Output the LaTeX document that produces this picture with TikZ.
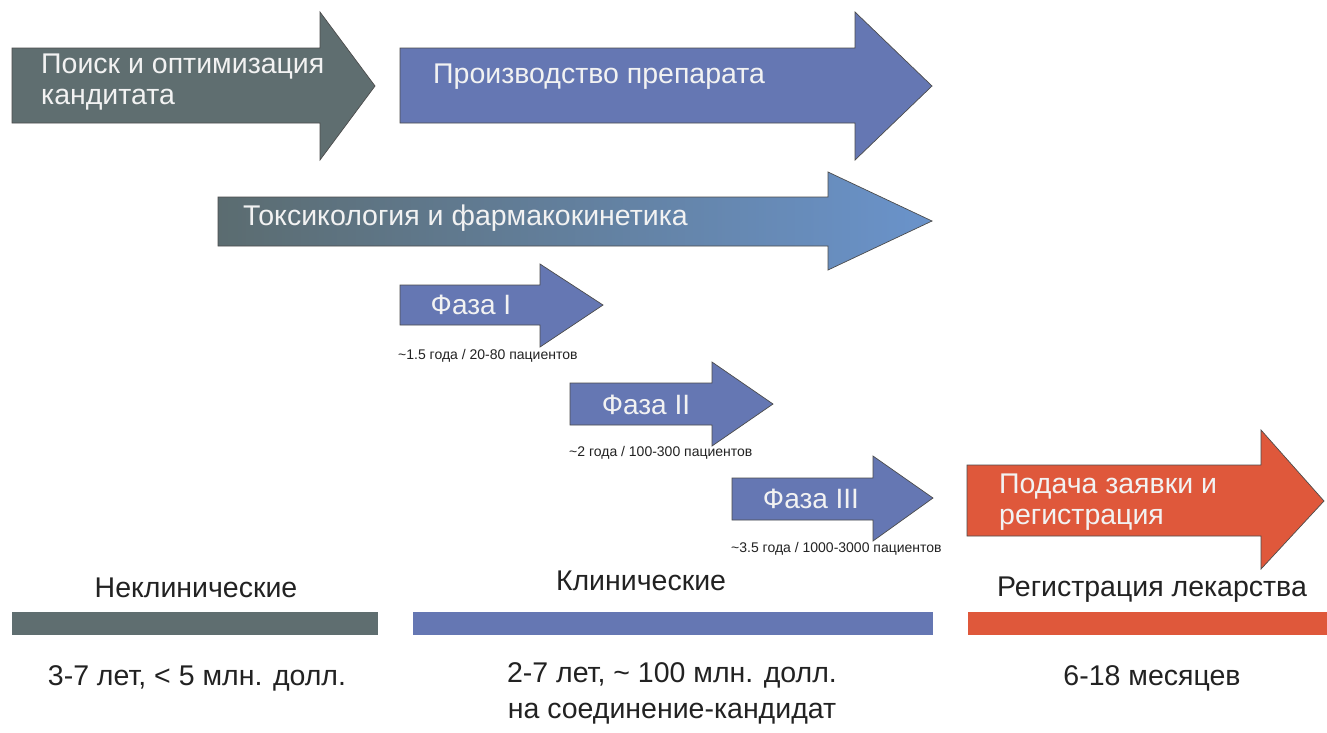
\documentclass[tikz,border=0pt]{standalone}
\usepackage{fontspec}
\setmainfont{Liberation Sans}
\definecolor{cgray}{HTML}{5F6E70}
\definecolor{cblue}{HTML}{6577B3}
\definecolor{cred}{HTML}{DF583B}
\definecolor{ctoxl}{HTML}{5B6C70}
\definecolor{ctoxr}{HTML}{6A93CB}
\definecolor{ctext}{HTML}{F2F2F2}
\definecolor{cdark}{HTML}{222222}
\begin{document}
\begin{tikzpicture}[x=1pt,y=-1pt,
  arrowline/.style={draw=black!70, line width=0.7pt},
  intext/.style={text=ctext, font=\fontsize{28.5}{31}\selectfont, align=left, inner sep=0pt},
  phasetext/.style={text=ctext, font=\fontsize{28}{31}\selectfont, inner sep=0pt},
  smalltext/.style={text=cdark, font=\fontsize{14}{16}\selectfont, inner sep=0pt},
  head/.style={text=cdark, font=\fontsize{28.5}{34}\selectfont, inner sep=0pt},
  info/.style={text=cdark, font=\fontsize{28.5}{36}\selectfont, align=center, inner sep=0pt}]
\useasboundingbox (0,0) rectangle (1327,732);
\fill[white] (0,0) rectangle (1327,732);

% top arrows
\path[fill=cgray, arrowline] (12,48) -- (320,48) -- (320,12) -- (375,86) -- (320,160) -- (320,123) -- (12,123) -- cycle;
\node[intext, anchor=west] (search) at (41,82) {Поиск и оптимизация\\кандитата};

\path[fill=cblue, arrowline] (400,48) -- (855,48) -- (855,12) -- (932,86) -- (855,160) -- (855,123) -- (400,123) -- cycle;
\node[intext, anchor=west] (prod) at (433,77) {Производство препарата};

\shade[left color=ctoxl, right color=ctoxr] (218,197) -- (828,197) -- (828,172) -- (932,221) -- (828,270) -- (828,246) -- (218,246) -- cycle;
\draw[arrowline] (218,197) -- (828,197) -- (828,172) -- (932,221) -- (828,270) -- (828,246) -- (218,246) -- cycle;
\node[intext, anchor=west] (tox) at (243,218) {Токсикология и фармакокинетика};

% phases
\path[fill=cblue, arrowline] (400,285) -- (540,285) -- (540,264) -- (603,305) -- (540,347) -- (540,325) -- (400,325) -- cycle;
\node[phasetext] (ph1) at (471,305) {Фаза I};
\node[smalltext, anchor=west] (ph1t) at (398,356) {\textasciitilde1.5 года / 20-80 пациентов};

\path[fill=cblue, arrowline] (570,383) -- (712,383) -- (712,362) -- (773,404) -- (712,446) -- (712,425) -- (570,425) -- cycle;
\node[phasetext] (ph2) at (646,405) {Фаза II};
\node[smalltext, anchor=west] (ph2t) at (569,453) {\textasciitilde2 года / 100-300 пациентов};

\path[fill=cblue, arrowline] (732,478) -- (873,478) -- (873,456) -- (933,498) -- (873,541) -- (873,520) -- (732,520) -- cycle;
\node[phasetext] (ph3) at (811,499) {Фаза III};
\node[smalltext, anchor=west] (ph3t) at (731,549) {\textasciitilde3.5 года / 1000-3000 пациентов};

% registration arrow
\path[fill=cred, arrowline] (967,465) -- (1261,465) -- (1261,430) -- (1324,501) -- (1261,569) -- (1261,536) -- (967,536) -- cycle;
\node[intext, anchor=west] (reg) at (999,502) {Подача заявки и\\регистрация};

% stage labels and bars
\node[head] (l1) at (196,588) {Неклинические};
\node[head] (l2) at (641,581) {Клинические};
\node[head] (l3) at (1152,590) {Регистрация лекарства};
\fill[cgray] (12,612) rectangle (378,635);
\fill[cblue] (413,612) rectangle (933,635);
\fill[cred] (968,612) rectangle (1327,635);

\node[info] (i1) at (197,678) {3-7 лет, < 5 млн. долл.};
\node[info, anchor=north] (i2) at (672,662) {2-7 лет, \textasciitilde{} 100 млн. долл.\\на соединение-кандидат};
\node[info] (i3) at (1152,678) {6-18 месяцев};
\end{tikzpicture}
\end{document}
